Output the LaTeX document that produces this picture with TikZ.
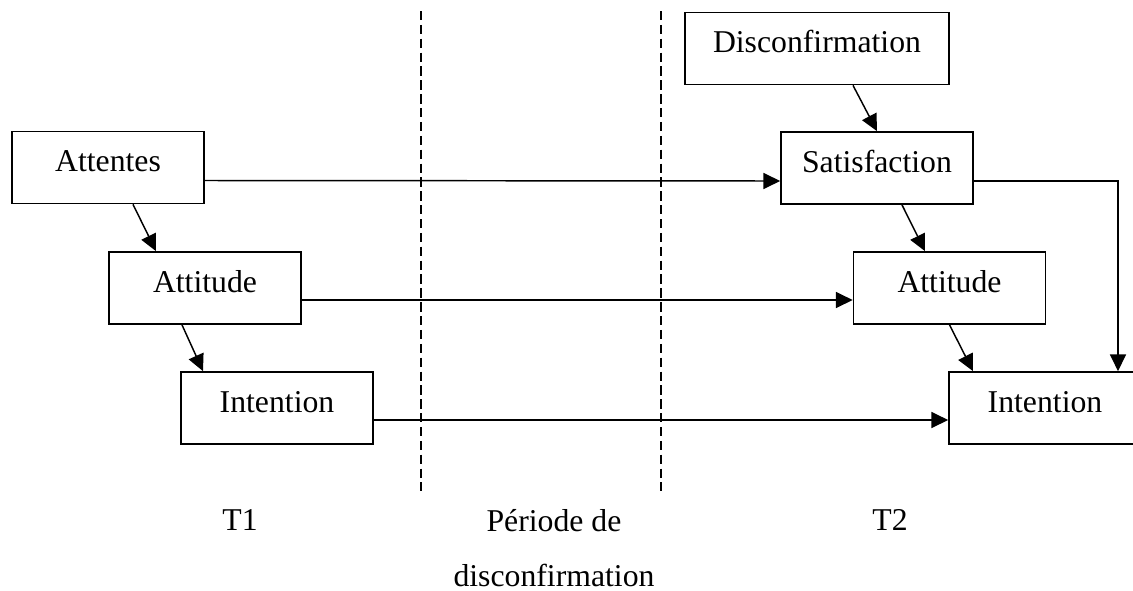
\documentclass[tikz,border=0pt]{standalone}
\usepackage{fontspec}
\setmainfont{Liberation Serif}
\usetikzlibrary{arrows.meta,calc}

\begin{document}
\begin{tikzpicture}[x=0.75pt,y=-0.75pt,
    font=\fontsize{23.8}{41.25}\selectfont,
    box/.style={draw,line width=1.3pt,minimum width=144pt,minimum height=54pt,
      inner sep=0pt,text height=16pt,text depth=9.4pt},
    arr/.style={-{Triangle[length=12.5pt,width=12pt]},line width=1.1pt},
    period/.style={dashed,dash pattern=on 7pt off 3.4pt,line width=0.9pt}]
  \useasboundingbox (0,0) rectangle (1133,590);
  \clip (0,0) rectangle (1133,590);
  % T1
  \node[box] (attentes) at (108,167.5) {Attentes};
  \node[box] (attitudeI) at (205,288) {Attitude};
  \node[box] (intentionI) at (277,408) {Intention};
  % T2
  \node[box,minimum width=198pt] (disconf) at (817,48.5) {Disconfirmation};
  \node[box] (satisf) at (877,168) {Satisfaction};
  \node[box] (attitudeII) at (949.5,288) {Attitude};
  \node[box] (intentionII) at (1045,408) {Intention};
  % periodes
  \draw[period] (421,11) -- (421,491);
  \draw[period] (661,11) -- (661,491);
  \node (tI) at (240,520) {T1};
  \node[align=center,anchor=base] (periode) at (554,586) {P\'eriode de\\disconfirmation};
  \node (tII) at (890,520) {T2};
  % liens
  \path[arr]
    ($(attentes.south)+(25,0)$) edge ($(attitudeI.north)+(-49,0)$)
    ($(attitudeI.south)+(-23,0)$) edge ($(intentionI.north)+(-74,0)$)
    ($(disconf.south)+(36,0)$) edge (satisf.north)
    ($(satisf.south)+(25,0)$) edge ($(attitudeII.north)+(-24.5,0)$)
    (attitudeII.south) edge ($(intentionII.north)+(-72,0)$)
    ($(attentes.east)+(0,13)$) edge ($(satisf.west)+(0,13)$)
    ($(attitudeI.east)+(0,12)$) edge ($(attitudeII.west)+(0,12)$)
    ($(intentionI.east)+(0,12)$) edge ($(intentionII.west)+(0,12)$);
  \draw[arr] ($(satisf.east)+(0,13)$) -| ($(intentionII.north)+(73,0)$);
\end{tikzpicture}
\end{document}
